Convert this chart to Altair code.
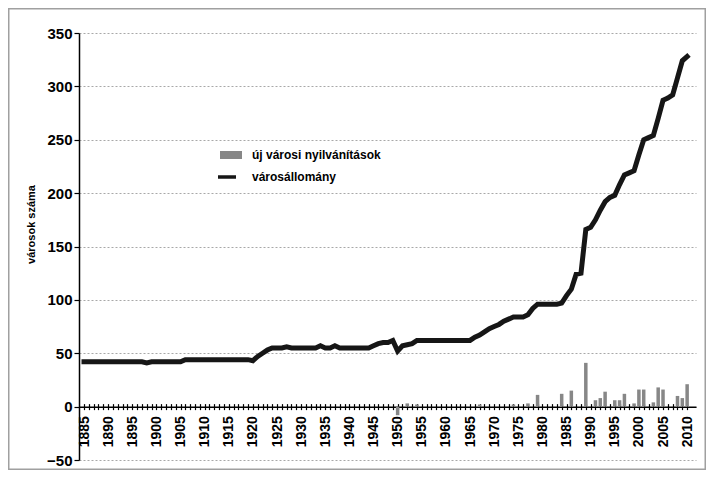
import altair as alt
import pandas as pd

# ---- data ----
years = list(range(1885, 2011))
town_count = [
    42, 42, 42, 42, 42,                                   # 1885-1889
    42, 42, 42, 42, 42, 42, 42, 42, 41, 42,               # 1890s
    42, 42, 42, 42, 42, 42, 44, 44, 44, 44,               # 1900s
    44, 44, 44, 44, 44, 44, 44, 44, 44, 44,               # 1910s
    43, 47, 50, 53, 55, 55, 55, 56, 55, 55,               # 1920s
    55, 55, 55, 55, 57, 55, 55, 57, 55, 55,               # 1930s
    55, 55, 55, 55, 55, 57, 59, 60, 60, 62,               # 1940s
    52, 57, 58, 59, 62, 62, 62, 62, 62, 62,               # 1950s
    62, 62, 62, 62, 62, 62, 65, 67, 70, 73,               # 1960s
    75, 77, 80, 82, 84, 84, 84, 86, 92, 96,               # 1970s
    96, 96, 96, 96, 97, 104, 110, 124, 125, 166,          # 1980s
    168, 175, 184, 192, 196, 198, 208, 217, 219, 221,     # 1990s
    236, 250, 252, 254, 270, 287, 289, 292, 308, 324,     # 2000s
    328,                                                  # 2010
]
new_year = [1950, 1952, 1954, 1967, 1974, 1977, 1979, 1984, 1986, 1989,
            1991, 1992, 1993, 1995, 1996, 1997, 1999, 2000, 2001, 2003,
            2004, 2005, 2008, 2009, 2010]
new_count = [-8, 3, 2, 2, 2, 3, 11, 12, 15, 41,
             6, 8, 14, 6, 6, 12, 3, 16, 16, 4,
             18, 16, 10, 8, 21]
y_ticks = [-50, 0, 50, 100, 150, 200, 250, 300, 350]
bar_label = "új városi nyilvánítások"
line_label = "városállomány"
y_title = "városok száma"

line_df = pd.DataFrame({"year": years, "value": town_count, "series": line_label})
bar_df = pd.DataFrame({"year": new_year, "value": new_count, "series": bar_label})

FONT = "Liberation Sans"
W, H = 617, 427
x_scale = alt.Scale(domain=[1885, 2010.8], nice=False, zero=False)
y_scale = alt.Scale(domain=[-50, 350], nice=False)
zero_from_bottom = H * 50 / 400


def y_enc():
    return alt.Y(
        "value:Q",
        scale=y_scale,
        axis=alt.Axis(
            values=y_ticks, grid=True, gridDash=[2, 2], gridColor="#a8a8a8",
            gridWidth=1, domainColor="black", domainWidth=1.5, tickSize=5,
            tickColor="black", tickWidth=1.2, labelFontSize=15, labelFontWeight="bold",
            labelColor="black", labelPadding=2, labelFont=FONT,
            title=y_title, titleFontSize=11, titleFontWeight="bold", titleFont=FONT,
            titleColor="black", titleX=-43, titleY=191, titleAngle=-90,
        ),
    )


frame = alt.Chart(alt.Data(values=[{"k": 1}])).mark_rect(
    fill="white", fillOpacity=0, stroke="#a0a0a0", strokeWidth=1.5
).encode(
    x=alt.value(-70.25), x2=alt.value(626.25),
    y=alt.value(-24.25), y2=alt.value(436.25),
)

bars = alt.Chart(bar_df).mark_bar(size=3.5).encode(
    x=alt.X(
        "year:Q", scale=x_scale,
        axis=alt.Axis(
            orient="bottom", offset=-zero_from_bottom, values=years,
            labelExpr="datum.value % 5 == 0 ? datum.label : ''", format="d",
            labelAngle=-90, labelAlign="right", labelBaseline="middle",
            labelFlush=False, labelOverlap=False, tickSize=3, tickColor="black",
            tickWidth=1.2, domainColor="black", domainWidth=1.5, grid=False,
            title=None, labelFontSize=14, labelFontWeight="bold", labelFont=FONT,
            labelColor="black", labelPadding=6,
        ),
    ),
    y=y_enc(),
    fill=alt.Fill(
        "series:N",
        scale=alt.Scale(domain=[bar_label], range=["#878787"]),
        legend=alt.Legend(
            orient="none", legendX=141, legendY=111, title=None,
            symbolType="M-1,-0.364H1V0.364H-1Z", symbolSize=484,
            symbolStrokeWidth=0, labelFontSize=12, labelFontWeight="bold",
            labelFont=FONT, labelColor="black", labelOffset=10,
        ),
    ),
)

line = alt.Chart(line_df).mark_line(strokeWidth=5, strokeCap="square").encode(
    x=alt.X(
        "year:Q", scale=x_scale,
        axis=alt.Axis(
            orient="top", offset=-(H - zero_from_bottom), values=years,
            labels=False, domain=False, tickSize=3, tickColor="black",
            tickWidth=1.2, grid=False, title=None,
        ),
    ),
    y=y_enc(),
    stroke=alt.Stroke(
        "series:N",
        scale=alt.Scale(domain=[line_label], range=["#161616"]),
        legend=alt.Legend(
            orient="none", legendX=137, legendY=133, title=None,
            symbolType="stroke", symbolSize=324, symbolStrokeWidth=3.5,
            labelFontSize=12, labelFontWeight="bold", labelFont=FONT,
            labelColor="black", labelOffset=14,
        ),
    ),
)

chart = (
    alt.layer(frame, bars, line)
    .resolve_axis(x="independent")
    .properties(
        width=W, height=H,
        autosize=alt.AutoSizeParams(type="none"),
        padding={"left": 71, "top": 25, "right": 10, "bottom": 10},
    )
    .configure(font=FONT, background="white")
    .configure_view(stroke=None)
)

chart.save("out.html", embed_options={"renderer": "svg", "actions": False})
